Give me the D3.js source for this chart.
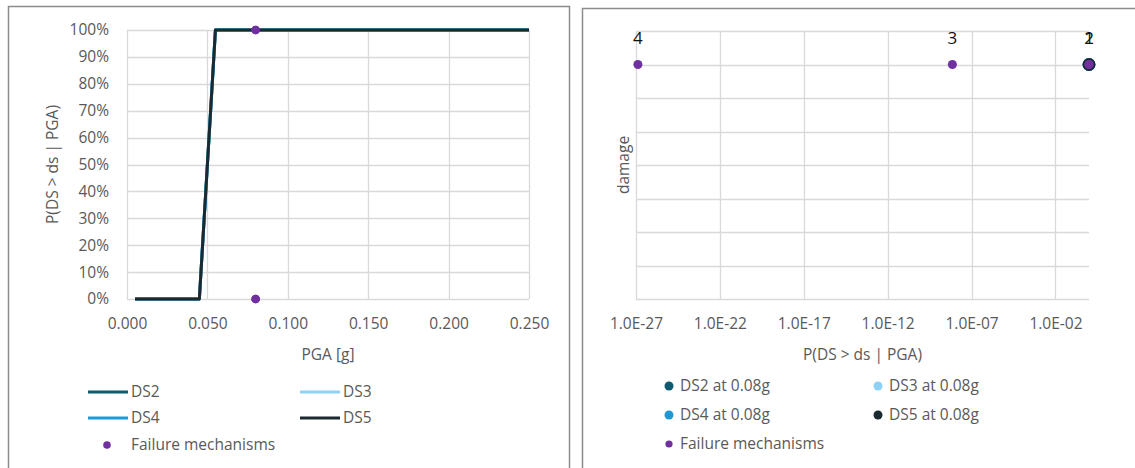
<!DOCTYPE html>
<html>
<head>
<meta charset="utf-8">
<script src="https://cdn.jsdelivr.net/npm/d3@7"></script>
<style>
  html, body { margin: 0; padding: 0; background: #ffffff; }
  svg { display: block; font-family: "Open Sans", "Noto Sans", sans-serif; }
</style>
</head>
<body>
<svg id="chart" width="1135" height="468"></svg>
<script>
// Fragility curves: PGA [g] vs probability of exceedance
const pga = [0.005, 0.045, 0.055, 0.250];
const ds2 = [0, 0, 1, 1];
const ds3 = [0, 0, 1, 1];
const ds4 = [0, 0, 1, 1];
const ds5 = [0, 0, 1, 1];
const seriesNames = ["DS2", "DS3", "DS4", "DS5"];
const seriesColors = ["#0e5a6e", "#8fd1f5", "#1d9ad6", "#1b2a31"];

// Failure mechanisms evaluated at 0.08 g
const fmPga = [0.08, 0.08, 0.08, 0.08];
const fmProb = [1, 1, 7.2e-9, 1.3e-27];
const fmLabels = ["1", "2", "3", "4"];
const fmDamage = [3.5, 3.5, 3.5, 3.5];

// Damage state exceedance at 0.08 g
const dsAtProb = [1, 1, 1, 1];
const dsAtDamage = [3.5, 3.5, 3.5, 3.5];

const xTicksLeft = [0, 0.05, 0.10, 0.15, 0.20, 0.25];
const yTicksLeft = [0, 0.1, 0.2, 0.3, 0.4, 0.5, 0.6, 0.7, 0.8, 0.9, 1.0];
const xTicksRight = [1e-27, 1e-22, 1e-17, 1e-12, 1e-7, 1e-2];
const yTicksRight = [0, 0.5, 1, 1.5, 2, 2.5, 3, 3.5, 4];

const purple = "#7030a0";
const grid = "#d9d9d9";
const txt = "#595959";
const fs = "15.5px";

const svg = d3.select("#chart");

// panel frames
svg.append("rect").attr("x", 8.5).attr("y", 6.5).attr("width", 561).attr("height", 470)
  .attr("fill", "none").attr("stroke", "#8c8c8c").attr("stroke-width", 1.5);
svg.append("rect").attr("x", 582.5).attr("y", 8.5).attr("width", 570).attr("height", 470)
  .attr("fill", "none").attr("stroke", "#8c8c8c").attr("stroke-width", 1.5);

// ---------- Left chart ----------
const L = { x0: 127, x1: 529, y0: 299, y1: 30 };
const xL = d3.scaleLinear().domain([0, 0.25]).range([L.x0, L.x1]);
const yL = d3.scaleLinear().domain([0, 1]).range([L.y0, L.y1]);
const gL = svg.append("g");

gL.append("g").selectAll("line").data(yTicksLeft).join("line")
  .attr("x1", L.x0).attr("x2", L.x1)
  .attr("y1", d => Math.round(yL(d)) + 0.5).attr("y2", d => Math.round(yL(d)) + 0.5)
  .attr("stroke", grid).attr("stroke-width", 1.3);
gL.append("g").selectAll("line").data(xTicksLeft).join("line")
  .attr("y1", L.y0).attr("y2", L.y1)
  .attr("x1", d => Math.round(xL(d)) + 0.5).attr("x2", d => Math.round(xL(d)) + 0.5)
  .attr("stroke", grid).attr("stroke-width", 1.3);

const axLY = d3.axisLeft(yL).tickValues(yTicksLeft).tickFormat(d3.format(".0%")).tickSize(0).tickPadding(18);
gL.append("g").attr("transform", `translate(${L.x0},0)`).call(axLY)
  .call(g => g.select(".domain").remove())
  .selectAll("text").attr("fill", txt).style("font-size", fs).style("font-family", "Open Sans");
const axLX = d3.axisBottom(xL).tickValues(xTicksLeft).tickFormat(d3.format(".3f")).tickSize(0).tickPadding(19);
gL.append("g").attr("transform", `translate(0,${L.y0})`).call(axLX)
  .call(g => g.select(".domain").remove())
  .selectAll("text").attr("fill", txt).style("font-size", fs).style("font-family", "Open Sans");

gL.append("text").attr("x", (L.x0 + L.x1) / 2).attr("y", 360).attr("text-anchor", "middle")
  .attr("fill", txt).style("font-size", fs).text("PGA [g]");
gL.append("text").attr("transform", `translate(58,${(L.y0 + L.y1) / 2}) rotate(-90)`)
  .attr("text-anchor", "middle").attr("fill", txt).style("font-size", fs).text("P(DS > ds | PGA)");

const lineL = d3.line().x(d => xL(d[0])).y(d => yL(d[1]));
[ds2, ds3, ds4, ds5].forEach((s, i) => {
  gL.append("path").datum(pga.map((p, j) => [p, s[j]]))
    .attr("d", lineL).attr("fill", "none").attr("stroke", seriesColors[i])
    .attr("stroke-width", 3).attr("stroke-linejoin", "round");
});
gL.append("g").selectAll("circle").data(fmPga.map((p, i) => [p, fmProb[i]])).join("circle")
  .attr("cx", d => xL(d[0])).attr("cy", d => yL(d[1])).attr("r", 4.3).attr("fill", purple);

// left legend
const legL = svg.append("g");
const legPosL = [[88, 392], [300, 392], [88, 418], [300, 418]];
seriesNames.forEach((n, i) => {
  const [x, y] = legPosL[i];
  legL.append("line").attr("x1", x).attr("x2", x + 40).attr("y1", y).attr("y2", y)
    .attr("stroke", seriesColors[i]).attr("stroke-width", 3);
  legL.append("text").attr("x", x + 43).attr("y", y).attr("dy", "0.35em")
    .attr("fill", txt).style("font-size", fs).text(n);
});
legL.append("circle").attr("cx", 107).attr("cy", 445).attr("r", 3.8).attr("fill", purple);
legL.append("text").attr("x", 131).attr("y", 445).attr("dy", "0.35em")
  .attr("fill", txt).style("font-size", fs).text("Failure mechanisms");

// ---------- Right chart ----------
const R = { x0: 636, x1: 1089, y0: 299, y1: 31 };
const xR = d3.scaleLog().domain([1e-27, 1]).range([R.x0, R.x1]);
const yR = d3.scaleLinear().domain([0, 4]).range([R.y0, R.y1]);
const gR = svg.append("g");

gR.append("g").selectAll("line").data(yTicksRight).join("line")
  .attr("x1", R.x0).attr("x2", R.x1)
  .attr("y1", d => Math.round(yR(d)) + 0.5).attr("y2", d => Math.round(yR(d)) + 0.5)
  .attr("stroke", grid).attr("stroke-width", 1.3);
gR.append("g").selectAll("line").data(xTicksRight).join("line")
  .attr("y1", R.y0).attr("y2", R.y1)
  .attr("x1", d => Math.round(xR(d)) + 0.5).attr("x2", d => Math.round(xR(d)) + 0.5)
  .attr("stroke", grid).attr("stroke-width", 1.3);

const sci = d => {
  const e = Math.round(Math.log10(d));
  return "1.0E" + (e < 0 ? "-" : "+") + String(Math.abs(e)).padStart(2, "0");
};
const axRX = d3.axisBottom(xR).tickValues(xTicksRight).tickFormat(sci).tickSize(0).tickPadding(19);
gR.append("g").attr("transform", `translate(0,${R.y0})`).call(axRX)
  .call(g => g.select(".domain").remove())
  .selectAll("text").attr("fill", txt).style("font-size", fs).style("font-family", "Open Sans");

gR.append("text").attr("x", (R.x0 + R.x1) / 2).attr("y", 360).attr("text-anchor", "middle")
  .attr("fill", txt).style("font-size", fs).text("P(DS > ds | PGA)");
gR.append("text").attr("transform", `translate(629,${(R.y0 + R.y1) / 2}) rotate(-90)`)
  .attr("text-anchor", "middle").attr("fill", txt).style("font-size", fs).text("damage");

// damage-state points at 0.08 g (drawn DS2 → DS5)
dsAtProb.forEach((p, i) => {
  gR.append("circle").attr("cx", xR(p)).attr("cy", yR(dsAtDamage[i])).attr("r", 6.4)
    .attr("fill", seriesColors[i]);
});
// failure mechanisms with their labels
gR.append("g").selectAll("circle").data(fmProb.map((p, i) => [p, fmDamage[i]])).join("circle")
  .attr("cx", d => xR(d[0])).attr("cy", d => yR(d[1])).attr("r", 4.5).attr("fill", purple);
gR.append("g").selectAll("text").data(fmProb.map((p, i) => [p, fmDamage[i], fmLabels[i]])).join("text")
  .attr("x", d => xR(d[0])).attr("y", d => yR(d[1]) - 26).attr("dy", "0.35em")
  .attr("text-anchor", "middle").attr("fill", "#111111").style("font-size", "17px")
  .text(d => d[2]);

// right legend
const legR = svg.append("g");
const legPosR = [[669, 386], [878, 386], [669, 415], [878, 415]];
seriesNames.forEach((n, i) => {
  const [x, y] = legPosR[i];
  legR.append("circle").attr("cx", x).attr("cy", y).attr("r", 4.5).attr("fill", seriesColors[i]);
  legR.append("text").attr("x", x + 11).attr("y", y).attr("dy", "0.35em")
    .attr("fill", txt).style("font-size", fs).text(n + " at 0.08g");
});
legR.append("circle").attr("cx", 669).attr("cy", 444).attr("r", 3.6).attr("fill", purple);
legR.append("text").attr("x", 680).attr("y", 444).attr("dy", "0.35em")
  .attr("fill", txt).style("font-size", fs).text("Failure mechanisms");
</script>
</body>
</html>
